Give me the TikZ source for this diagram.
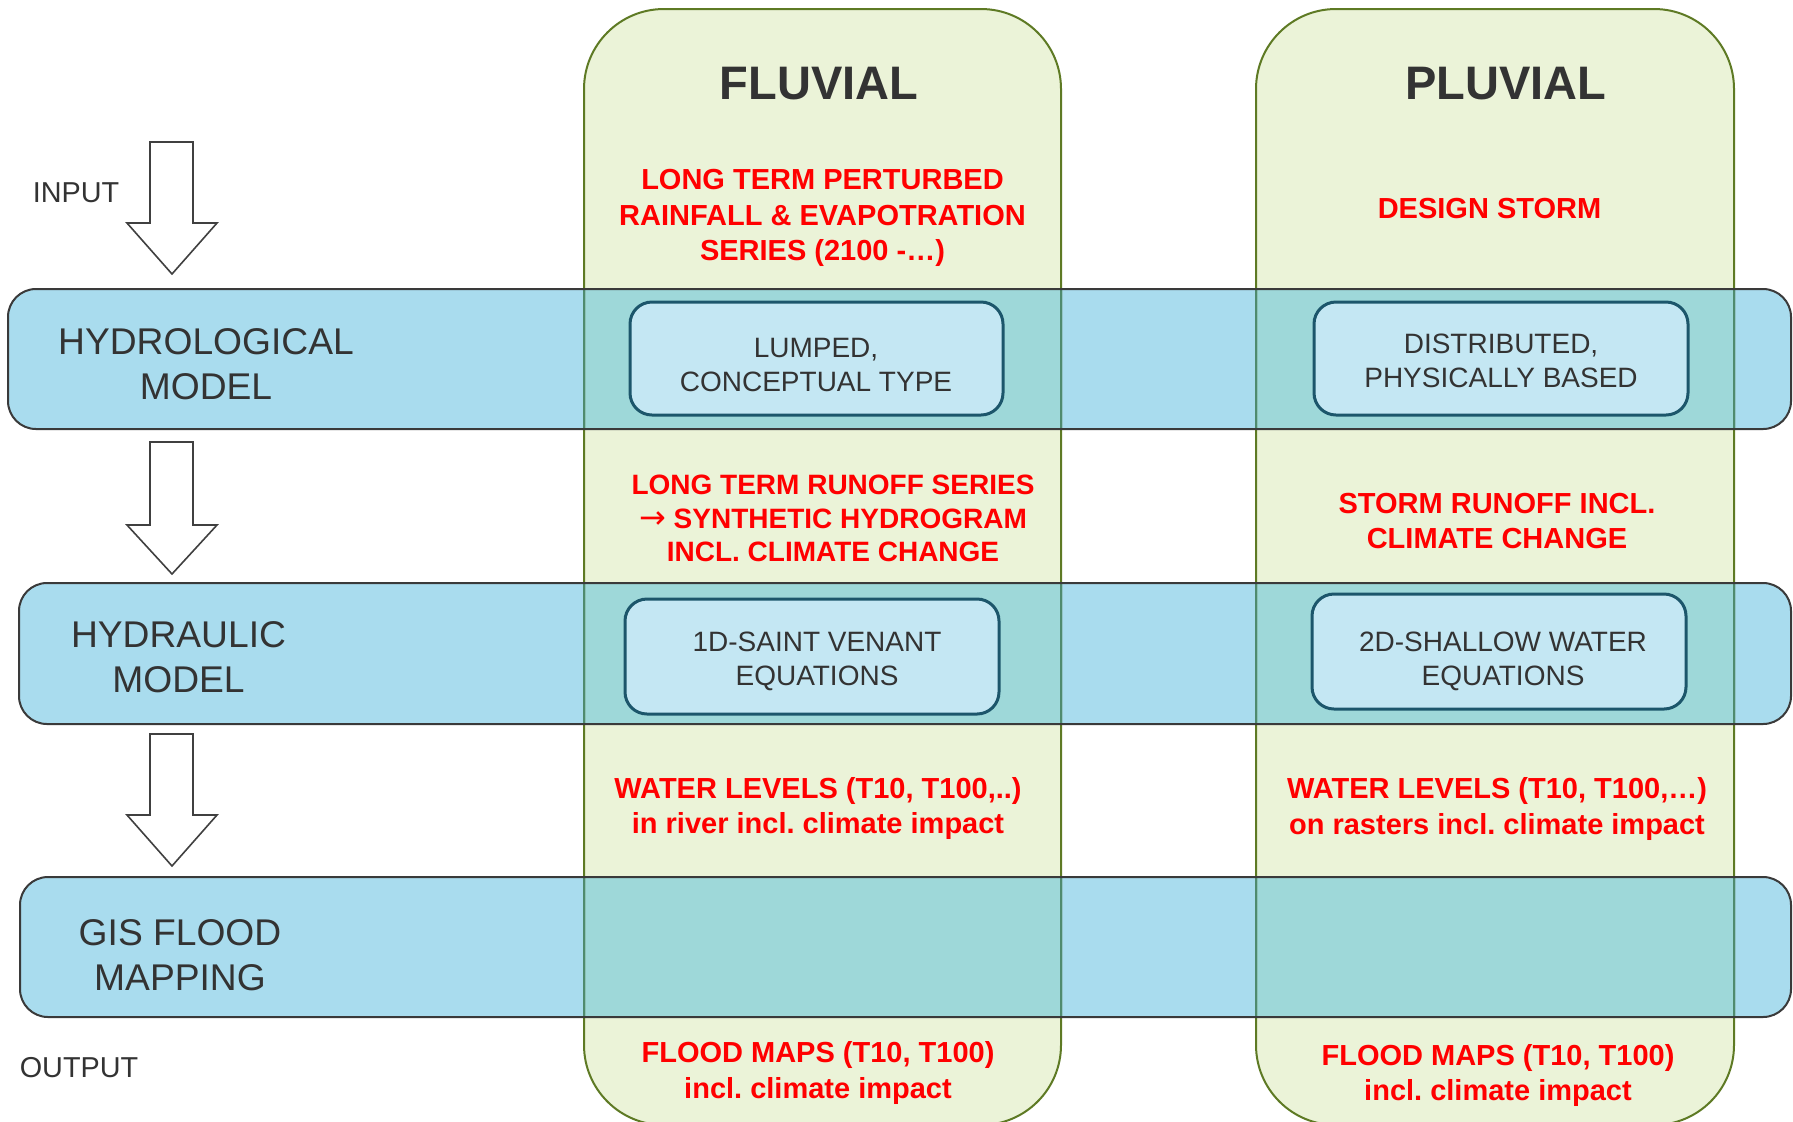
\documentclass[tikz,border=0pt]{standalone}
\usepackage{fontspec}
\setmainfont{Liberation Sans}
\newfontfamily\arrowfont{DejaVu Sans}
\frenchspacing
\definecolor{bandblue}{HTML}{A9DCEE}
\definecolor{overlapc}{HTML}{9ED8D9}
\definecolor{colgreen}{HTML}{EBF3D8}
\definecolor{colline}{HTML}{5E7A24}
\definecolor{colinband}{HTML}{4F8B6E}
\definecolor{bandline}{HTML}{3A3A3A}
\definecolor{boxfill}{HTML}{C4E7F3}
\definecolor{boxline}{HTML}{1C566B}
\definecolor{txtgray}{HTML}{333333}
\definecolor{arrowline}{HTML}{404040}
\definecolor{redtext}{HTML}{FF0000}
\begin{document}
\begin{tikzpicture}[x=0.5pt,y=-0.5pt,
  colshape/.style={rounded corners=40pt},
  bandshape/.style={rounded corners=14pt},
  innerbox/.style={draw=boxline, fill=boxfill, line width=1.5pt, rounded corners=11pt},
  redtxt/.style={text=redtext, font=\bfseries\fontsize{14.5}{17.7}\selectfont\frenchspacing, align=center, inner sep=0pt},
  modtxt/.style={text=txtgray, font=\fontsize{18.6}{22.5}\selectfont, align=center, inner sep=0pt},
  boxtxt/.style={text=txtgray, font=\fontsize{14}{17}\selectfont, align=center, inner sep=0pt},
  sidetxt/.style={text=txtgray, font=\fontsize{14.4}{17}\selectfont, inner sep=0pt},
  headtxt/.style={text=txtgray, font=\bfseries\fontsize{23.5}{28}\selectfont, inner sep=0pt},
  blockarrow/.style={draw=arrowline, fill=white, line width=0.8pt, line join=miter}]

\useasboundingbox (0,0) rectangle (1793,1121);
\fill[white] (0,0) rectangle (1793,1121);

% columns
\fill[colgreen, colshape] (584,9) rectangle (1061,1125);
\fill[colgreen, colshape] (1256,9) rectangle (1734,1125);

% bands
\fill[bandblue, bandshape] (8,289) rectangle (1791,429);
\fill[bandblue, bandshape] (19,583) rectangle (1791,724);
\fill[bandblue, bandshape] (20,877) rectangle (1791,1017);

% overlap
\begin{scope}
  \clip[colshape] (584,9) rectangle (1061,1125) (1256,9) rectangle (1734,1125);
  \fill[overlapc, bandshape] (8,289) rectangle (1791,429) (19,583) rectangle (1791,724) (20,877) rectangle (1791,1017);
\end{scope}

% column borders
\draw[colline, line width=1pt, colshape] (584,9) rectangle (1061,1125);
\draw[colline, line width=1pt, colshape] (1256,9) rectangle (1734,1125);
\begin{scope}
  \clip[bandshape] (8,289) rectangle (1791,429) (19,583) rectangle (1791,724) (20,877) rectangle (1791,1017);
  \draw[colinband, line width=1pt, colshape] (584,9) rectangle (1061,1125);
  \draw[colinband, line width=1pt, colshape] (1256,9) rectangle (1734,1125);
\end{scope}

% band borders
\draw[bandline, line width=1pt, bandshape] (8,289) rectangle (1791,429);
\draw[bandline, line width=1pt, bandshape] (19,583) rectangle (1791,724);
\draw[bandline, line width=1pt, bandshape] (20,877) rectangle (1791,1017);

% inner boxes
\draw[innerbox] (630,302) rectangle (1003,415);
\draw[innerbox] (1314,302) rectangle (1688,415);
\draw[innerbox] (625,599) rectangle (999,714);
\draw[innerbox] (1312,594) rectangle (1686,709);

% arrows
\draw[blockarrow] (150,142) -- (193,142) -- (193,223) -- (217,223) -- (172,274) -- (127,223) -- (150,223) -- cycle;
\draw[blockarrow] (150,442) -- (193,442) -- (193,525) -- (217,525) -- (172,574) -- (127,525) -- (150,525) -- cycle;
\draw[blockarrow] (150,734) -- (193,734) -- (193,815) -- (217,815) -- (172,866) -- (127,815) -- (150,815) -- cycle;

% side texts
\node[sidetxt] (input) at (76,193) {INPUT};
\node[sidetxt] (output) at (79,1068) {OUTPUT};
\node[modtxt] (hydro) at (206,364) {HYDROLOGICAL\\MODEL};
\node[modtxt] (hydraulic) at (178.5,657.5) {HYDRAULIC\\MODEL};
\node[modtxt] (gis) at (180,955.5) {GIS FLOOD\\MAPPING};

% headers
\node[headtxt] (fluvial) at (819,83.5) {FLUVIAL};
\node[headtxt] (pluvial) at (1506,83.5) {PLUVIAL};

% red texts
\node[redtxt] (fin) at (822.5,218) {LONG TERM PERTURBED\\RAINFALL \& EVAPOTRATION\\SERIES (2100 -…)};
\node[redtxt] (pin) at (1489.5,209) {DESIGN STORM};
\node[redtxt, font=\bfseries\fontsize{14}{16.9}\selectfont] (frun) at (833,518.5) {LONG TERM RUNOFF SERIES\\{\arrowfont\mdseries\fontsize{16}{16.9}\selectfont →} SYNTHETIC HYDROGRAM\\INCL. CLIMATE CHANGE};
\node[redtxt] (prun) at (1497,521) {STORM RUNOFF INCL.\\CLIMATE CHANGE};
\node[redtxt] (fwl) at (818,808.5) {WATER LEVELS (T10, T100,..)\\in river incl. climate impact};
\node[redtxt] (pwl) at (1497,809) {WATER LEVELS (T10, T100,…)\\on rasters incl. climate impact};
\node[redtxt] (fmap) at (818,1073) {FLOOD MAPS (T10, T100)\\incl. climate impact};
\node[redtxt] (pmap) at (1498,1075.5) {FLOOD MAPS (T10, T100)\\incl. climate impact};

% box texts
\node[boxtxt] (lumped) at (816,365) {LUMPED,\\CONCEPTUAL TYPE};
\node[boxtxt] (distributed) at (1501,360.5) {DISTRIBUTED,\\PHYSICALLY BASED};
\node[boxtxt] (saint) at (817,661.5) {1D-SAINT VENANT\\EQUATIONS};
\node[boxtxt] (shallow) at (1503,661.5) {2D-SHALLOW WATER\\EQUATIONS};
\end{tikzpicture}
\end{document}
